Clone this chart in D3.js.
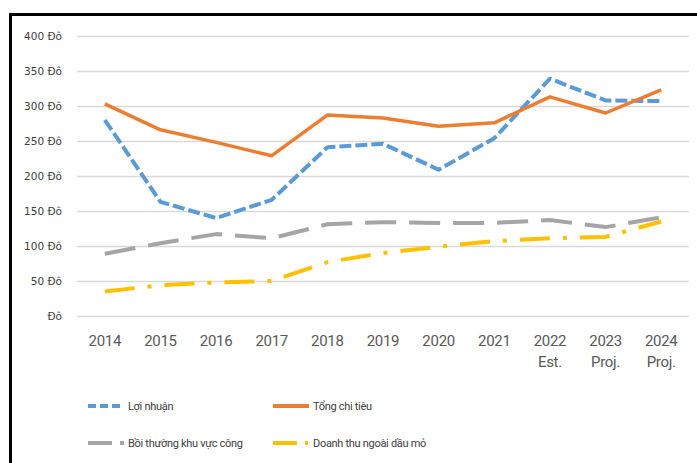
<!DOCTYPE html>
<html>
<head>
<meta charset="utf-8">
<script src="https://cdn.jsdelivr.net/npm/d3@7/dist/d3.min.js"></script>
<style>
  html, body { margin: 0; padding: 0; background: #fff; }
  svg { display: block; }
  .ytick text { font-family: "DejaVu Sans", sans-serif; font-size: 10.5px; fill: #404040; }
  .xtick text { font-family: "Roboto", sans-serif; font-size: 15px; fill: #595959; letter-spacing: -0.3px; }
  .legend text { font-family: "Roboto", sans-serif; font-size: 11px; fill: #404040; letter-spacing: -0.3px; }
</style>
</head>
<body>
<script>
// Years on the horizontal axis, with a second line for estimates/projections
const years = ["2014", "2015", "2016", "2017", "2018", "2019", "2020", "2021", "2022", "2023", "2024"];
const yearNotes = ["", "", "", "", "", "", "", "", "Est.", "Proj.", "Proj."];

// Series values (Đô)
const loiNhuan    = [280, 163, 140, 166, 241, 246, 209, 254, 339, 308, 307];
const tongChiTieu = [303, 266, 248, 229, 287, 283, 271, 276, 313, 290, 323];
const boiThuong   = [89, 104, 117, 111, 131, 134, 133, 133, 137, 127, 141];
const doanhThu    = [35, 44, 48, 50, 77, 90, 99, 107, 111, 113, 135];

const seriesNames = ["Lợi nhuận", "Tổng chi tiêu", "Bồi thường khu vực công", "Doanh thu ngoài dầu mỏ"];
const yTicks = [0, 50, 100, 150, 200, 250, 300, 350, 400];

const W = 697, H = 463;
const plotLeft = 77, plotRight = 689, plotTop = 36, plotBottom = 316;

const svg = d3.select("body").append("svg").attr("width", W).attr("height", H);

// Frame: heavy rule along the top and left edges
svg.append("line").attr("x1", 10).attr("x2", W).attr("y1", 14.5).attr("y2", 14.5)
  .attr("stroke", "#000").attr("stroke-width", 3);
svg.append("line").attr("x1", 10.5).attr("x2", 10.5).attr("y1", 13).attr("y2", H)
  .attr("stroke", "#000").attr("stroke-width", 3);

const x = d3.scaleBand().domain(years).range([plotLeft, plotRight]);
const xc = d => x(d) + x.bandwidth() / 2;
const y = d3.scaleLinear().domain([0, 400]).range([plotBottom, plotTop]);

// Y axis with gridlines
const yAxis = d3.axisLeft(y)
  .tickValues(yTicks)
  .tickSize(-(plotRight - plotLeft))
  .tickPadding(15)
  .tickFormat(d => d === 0 ? "Đô" : d + " Đô");
const gy = svg.append("g").attr("class", "ytick").attr("transform", `translate(${plotLeft},0)`).call(yAxis);
gy.select(".domain").remove();
gy.selectAll("line").attr("stroke", "#d9d9d9").attr("stroke-width", 1.5);

// X axis labels (two lines for notes)
const xAxis = d3.axisBottom(x).tickSize(0).tickPadding(0);
const gx = svg.append("g").attr("class", "xtick").attr("transform", `translate(0,${plotBottom})`).call(xAxis);
gx.select(".domain").remove();
gx.selectAll(".tick text").each(function(d, i) {
  const t = d3.select(this).attr("y", 0).attr("dy", null).text(null);
  t.append("tspan").attr("x", 0).attr("y", 30).text(d);
  if (yearNotes[i]) t.append("tspan").attr("x", 0).attr("y", 51).text(yearNotes[i]);
});

const series = [
  { name: seriesNames[0], values: loiNhuan,    color: "#5b9bd5", dash: "12,4",       width: 4 },
  { name: seriesNames[1], values: tongChiTieu, color: "#ed7d31", dash: null,         width: 3.5 },
  { name: seriesNames[2], values: boiThuong,   color: "#a5a5a5", dash: "31,13",      width: 4 },
  { name: seriesNames[3], values: doanhThu,    color: "#ffc000", dash: "30,13,4,13", width: 4 }
];

const line = d3.line().x((d, i) => xc(years[i])).y(d => y(d));

// Draw from back to front so total spending sits on top
const order = [3, 2, 0, 1];
order.forEach(k => {
  const s = series[k];
  svg.append("path")
    .datum(s.values)
    .attr("d", line)
    .attr("fill", "none")
    .attr("stroke", s.color)
    .attr("stroke-width", s.width)
    .attr("stroke-linejoin", "round")
    .attr("stroke-dasharray", s.dash);
});

// Legend
const legendPos = [
  { x: 88, y: 406, dash: "8,4", len: 32 },
  { x: 273, y: 406, dash: null, len: 36 },
  { x: 88, y: 443, dash: "24,8", len: 36 },
  { x: 273, y: 443, dash: "24,8,3,8", len: 36 }
];
const lg = svg.append("g").attr("class", "legend");
series.forEach((s, i) => {
  const p = legendPos[i];
  lg.append("line")
    .attr("x1", p.x).attr("x2", p.x + p.len)
    .attr("y1", p.y).attr("y2", p.y)
    .attr("stroke", s.color).attr("stroke-width", 4)
    .attr("stroke-dasharray", p.dash);
  lg.append("text")
    .attr("x", p.x + 40).attr("y", p.y)
    .attr("dy", "0.35em")
    .text(s.name);
});
</script>
</body>
</html>
